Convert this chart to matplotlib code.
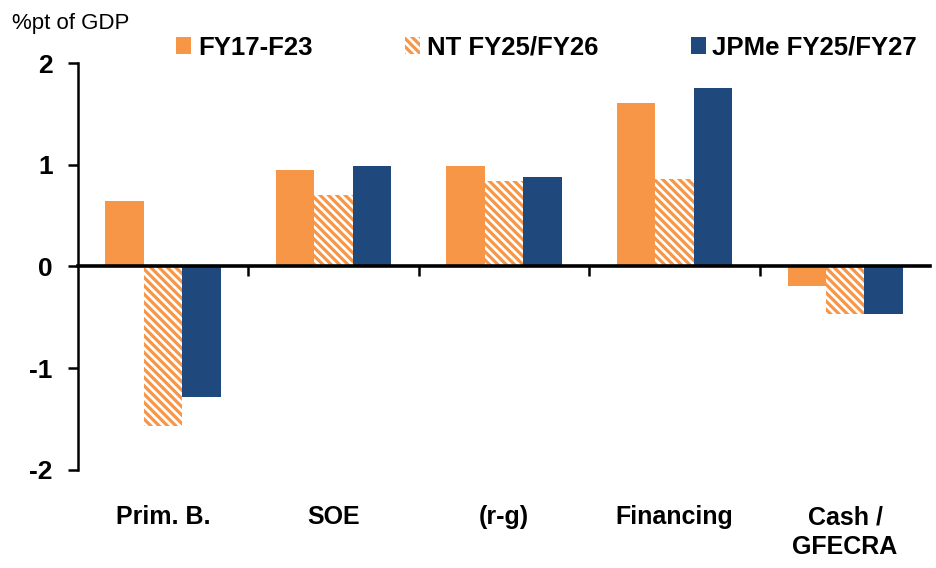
import matplotlib
matplotlib.use("Agg")
import matplotlib.pyplot as plt
import numpy as np

plt.rcParams['font.family'] = ['Liberation Sans', 'DejaVu Sans']
plt.rcParams['hatch.linewidth'] = 2.3
plt.rcParams['axes.unicode_minus'] = False

categories = ["Prim. B.", "SOE", "(r-g)", "Financing", "Cash /\nGFECRA"]
fy17_f23 = [0.64, 0.95, 0.99, 1.61, -0.19]
nt_fy25_26 = [-1.57, 0.70, 0.84, 0.86, -0.47]
jpme_fy25_27 = [-1.28, 0.99, 0.88, 1.75, -0.47]

orange = '#F79646'
blue = '#1F497D'

fig = plt.figure(figsize=(9.36, 5.68), dpi=100)
ax = fig.add_axes([0.083, 0.173, 0.911, 0.716])

x = np.arange(len(categories))
w = 0.225
ax.bar(x - w, fy17_f23, w, color=orange, label="FY17-F23")
ax.bar(x, nt_fy25_26, w, facecolor='white', edgecolor=orange, hatch='\\\\\\\\',
       linewidth=0, label="NT FY25/FY26")
ax.bar(x + w, jpme_fy25_27, w, color=blue, label="JPMe FY25/FY27")

ax.set_xlim(-0.5, len(categories) - 0.5)
ax.set_ylim(-2, 2)
ax.set_yticks([-2, -1, 0, 1, 2])
ax.tick_params(axis='y', direction='out', length=7, width=1.8, pad=11, labelsize=19)
for t in ax.get_yticklabels():
    t.set_fontweight('bold')

ax.spines['top'].set_visible(False)
ax.spines['right'].set_visible(False)
ax.spines['left'].set_linewidth(1.8)
ax.spines['left'].set_bounds(-2, 2)
ax.spines['bottom'].set_position(('data', 0))
ax.spines['bottom'].set_linewidth(2.6)
ax.spines['bottom'].set_zorder(5)

ax.set_xticks(x[:-1] + 0.5)
ax.set_xticklabels([])
ax.tick_params(axis='x', direction='out', length=7, width=1.8)

for xi, lab in zip(x, categories):
    ax.text(xi, -2.35, lab, ha='center', va='top', fontsize=18, fontweight='bold',
            clip_on=False, linespacing=1.3)

fig.text(0.013, 0.958, "%pt of GDP", fontsize=16, va='center', ha='left')

fig.legend(loc='center', bbox_to_anchor=(0.584, 0.916), ncol=3, frameon=False,
           prop={'size': 18.5, 'weight': 'bold'}, handlelength=0.6, handleheight=0.6,
           handletextpad=0.25, columnspacing=3.6)

fig.savefig("out.png", dpi=100)
